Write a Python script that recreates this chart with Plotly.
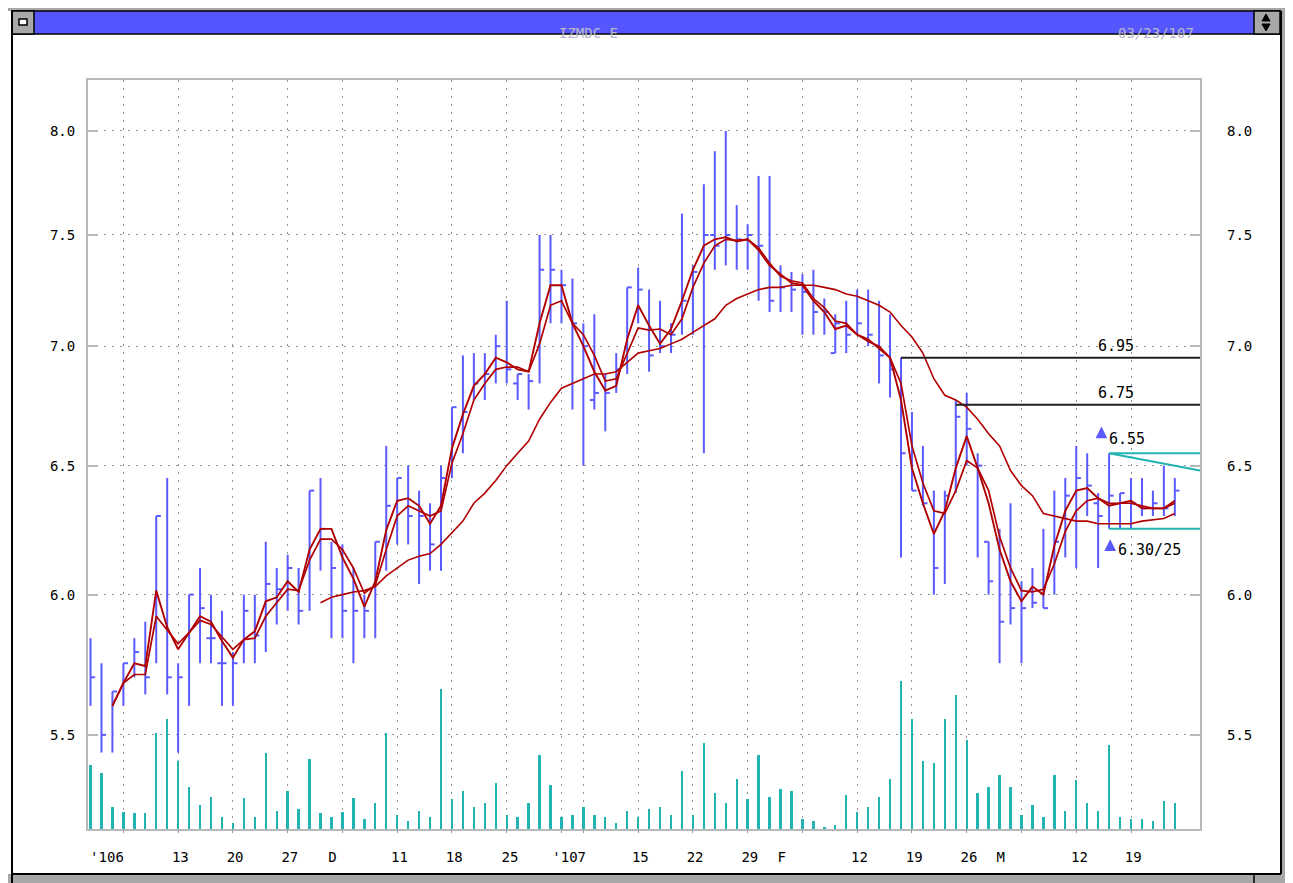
import plotly.graph_objects as go
import math

# ---------------- data ----------------
idx = list(range(100))

highs = [5.84, 5.75, 5.65, 5.75, 5.84, 5.90, 6.30, 6.45, 5.75, 6.00,
         6.10, 6.00, 5.94, 5.79, 6.00, 6.00, 6.20, 6.10, 6.15, 6.10,
         6.40, 6.45, 6.20, 6.19, 6.10, 6.00, 6.20, 6.58, 6.45, 6.50,
         6.40, 6.35, 6.50, 6.74, 6.96, 6.97, 6.97, 7.05, 7.20, 6.88,
         6.88, 7.50, 7.50, 7.34, 7.30, 7.10, 7.14, 6.88, 6.97, 7.26,
         7.35, 7.25, 7.20, 7.10, 7.60, 7.36, 7.74, 7.90, 8.00, 7.64,
         7.55, 7.78, 7.78, 7.36, 7.33, 7.32, 7.34, 7.21, 7.14, 7.20,
         7.25, 7.25, 7.20, 7.14, 6.95, 6.72, 6.58, 6.40, 6.40, 6.77,
         6.80, 6.55, 6.20, 6.25, 6.35, 6.05, 6.10, 6.25, 6.40, 6.45,
         6.58, 6.55, 6.39, 6.55, 6.39, 6.45, 6.45, 6.40, 6.50, 6.45]

lows = [5.60, 5.44, 5.44, 5.60, 5.70, 5.64, 5.75, 5.64, 5.44, 5.60,
        5.75, 5.75, 5.60, 5.60, 5.75, 5.75, 5.79, 5.89, 5.94, 5.89,
        5.94, 6.09, 5.84, 5.84, 5.75, 5.84, 5.84, 6.09, 6.19, 6.19,
        6.04, 6.09, 6.09, 6.45, 6.55, 6.77, 6.77, 6.84, 6.84, 6.77,
        6.73, 6.84, 7.10, 7.10, 6.73, 6.50, 6.73, 6.64, 6.80, 6.88,
        7.10, 6.89, 6.97, 6.97, 7.05, 7.05, 6.55, 7.34, 7.36, 7.34,
        7.34, 7.20, 7.15, 7.15, 7.15, 7.05, 7.05, 7.05, 6.97, 6.97,
        7.05, 7.00, 6.84, 6.78, 6.14, 6.40, 6.34, 6.00, 6.04, 6.39,
        6.50, 6.14, 6.00, 5.75, 5.89, 5.75, 5.95, 5.95, 6.00, 6.14,
        6.10, 6.30, 6.10, 6.25, 6.25, 6.25, 6.30, 6.30, 6.30, 6.30]

closes = [5.70, 5.50, 5.65, 5.75, 5.79, 5.70, 6.30, 5.70, 5.70, 6.00,
          5.95, 5.84, 5.75, 5.75, 5.94, 5.85, 6.04, 6.02, 6.10, 5.94,
          6.40, 6.25, 6.10, 5.94, 5.94, 5.94, 6.20, 6.34, 6.45, 6.30,
          6.30, 6.19, 6.45, 6.74, 6.72, 6.84, 6.88, 7.00, 6.90, 6.88,
          6.85, 7.34, 7.34, 7.27, 7.10, 7.00, 6.80, 6.80, 6.90, 7.26,
          7.25, 6.96, 7.00, 7.05, 7.20, 7.33, 7.50, 7.45, 7.50, 7.48,
          7.50, 7.45, 7.20, 7.26, 7.25, 7.24, 7.15, 7.15, 7.10, 7.05,
          7.10, 7.05, 6.96, 6.90, 6.55, 6.40, 6.35, 6.10, 6.38, 6.70,
          6.65, 6.50, 6.05, 5.90, 5.95, 5.95, 5.97, 5.95, 6.20, 6.38,
          6.45, 6.42, 6.30, 6.38, 6.39, 6.35, 6.33, 6.35, 6.33, 6.40]

# open ticks that are visible on the reference (others not drawn)
opens = {11: 5.84, 12: 5.75, 39: 6.84, 46: 6.77, 57: 7.50, 68: 6.97, 82: 6.20, 92: 6.35}

volume = [640, 560, 220, 170, 160, 160, 960, 1100, 680, 420,
          240, 320, 120, 60, 310, 120, 760, 180, 380, 200,
          700, 160, 120, 170, 310, 100, 260, 960, 140, 80,
          180, 120, 1400, 300, 380, 220, 260, 460, 140, 120,
          260, 740, 440, 120, 140, 220, 140, 120, 60, 180,
          120, 200, 220, 140, 580, 140, 860, 360, 260, 500,
          300, 740, 320, 400, 380, 100, 80, 20, 40, 340,
          170, 220, 320, 500, 1480, 1100, 680, 660, 1100, 1340,
          890, 360, 420, 540, 420, 140, 240, 120, 540, 180,
          490, 260, 180, 840, 120, 100, 100, 80, 280, 260]

ma_fast = [None, None, 5.60, 5.68, 5.75, 5.74, 6.015, 5.88, 5.80, 5.86,
           5.92, 5.90, 5.83, 5.77, 5.835, 5.865, 5.975, 5.99, 6.05, 6.01,
           6.17, 6.25, 6.25, 6.14, 6.06, 5.955, 6.05, 6.245, 6.36, 6.37,
           6.34, 6.27, 6.34, 6.57, 6.71, 6.83, 6.88, 6.95, 6.93, 6.90,
           6.89, 7.10, 7.27, 7.27, 7.10, 7.00, 6.89, 6.81, 6.83, 7.03,
           7.18, 7.09, 7.01, 7.075, 7.20, 7.34, 7.45, 7.48, 7.49, 7.47,
           7.48, 7.43, 7.36, 7.32, 7.28, 7.27, 7.20, 7.15, 7.075, 7.09,
           7.05, 7.03, 6.99, 6.95, 6.77, 6.49, 6.35, 6.23, 6.32, 6.49,
           6.62, 6.49, 6.35, 6.17, 6.05, 5.975, 6.03, 6.00, 6.185, 6.32,
           6.40, 6.41, 6.37, 6.34, 6.35, 6.36, 6.33, 6.33, 6.33, 6.36]

ma_slow = [None, None, 5.60, 5.68, 5.71, 5.71, 5.92, 5.87, 5.82, 5.86,
           5.905, 5.89, 5.845, 5.80, 5.835, 5.84, 5.92, 5.97, 6.02, 6.015,
           6.13, 6.21, 6.21, 6.17, 6.10, 6.005, 6.035, 6.17, 6.30, 6.34,
           6.32, 6.30, 6.32, 6.51, 6.63, 6.77, 6.84, 6.90, 6.91, 6.91,
           6.89, 7.01, 7.18, 7.20, 7.10, 7.05, 6.96, 6.85, 6.86, 6.97,
           7.08, 7.07, 7.075, 7.05, 7.12, 7.26, 7.37, 7.45, 7.48, 7.475,
           7.48, 7.44, 7.37, 7.31, 7.29, 7.28, 7.21, 7.17, 7.11, 7.10,
           7.05, 7.02, 7.00, 6.95, 6.84, 6.58, 6.43, 6.32, 6.31, 6.40,
           6.52, 6.49, 6.40, 6.22, 6.10, 6.015, 6.01, 6.02, 6.115, 6.24,
           6.32, 6.36, 6.37, 6.35, 6.35, 6.35, 6.34, 6.33, 6.33, 6.35]

ma_long = [None] * 21 + [
    5.97, 5.99, 6.00, 6.01, 6.015, 6.03, 6.07, 6.10, 6.13,
    6.145, 6.155, 6.19, 6.235, 6.28, 6.35, 6.39, 6.44, 6.50, 6.55,
    6.60, 6.69, 6.76, 6.82, 6.84, 6.86, 6.88, 6.88, 6.89, 6.93,
    6.97, 6.98, 6.99, 7.01, 7.03, 7.06, 7.09, 7.12, 7.18, 7.21,
    7.23, 7.25, 7.26, 7.26, 7.27, 7.27, 7.27, 7.26, 7.25, 7.23,
    7.22, 7.20, 7.18, 7.15, 7.09, 7.04, 6.97, 6.86, 6.79, 6.77,
    6.74, 6.69, 6.63, 6.58, 6.48, 6.42, 6.38, 6.31, 6.30, 6.29,
    6.28, 6.28, 6.27, 6.27, 6.27, 6.27, 6.28, 6.285, 6.29, 6.31]

# resistance levels (black) : price and starting bar
res_levels = [6.95, 6.75]
res_start = [74, 79]
res_labels = ["6.95", "6.75"]

# channel (teal): top, bottom, sloping line end price, starting bar
chan_start = 93
chan_top = 6.55
chan_bottom = 6.25
chan_slope_end = 6.48

# x axis labels
label_pos = [1.5, 8.2, 13.2, 18.2, 22.1, 28.2, 33.2, 38.3, 43.7, 50.2,
             55.2, 60.2, 63.1, 70.2, 75.2, 80.2, 83.1, 90.3, 95.2]
label_text = ["'106", "13", "20", "27", "D", "11", "18", "25", "'107", "15",
              "22", "29", "F", "12", "19", "26", "M", "12", "19"]
grid_idx = [3, 8, 13, 18, 23, 28, 33, 38, 43, 45, 50, 55, 60, 65, 70, 75, 80, 85, 90, 95]

price_ticks = [5.5, 6.0, 6.5, 7.0, 7.5, 8.0]
price_tick_text = ["5.5", "6.0", "6.5", "7.0", "7.5", "8.0"]

X_RANGE = [-0.23, 101.3]
Y_RANGE = [5.188, 8.257]

# ---------------- styles ----------------
BLUE = "#5a5aff"
TEAL = "#22b4b0"
RED = "#b00000"
GRID = "#959595"
FRAME = "#b8b8b8"
FONT = "DejaVu Sans Mono"
TICK = 0.42

fig = go.Figure()

# volume
fig.add_trace(go.Bar(x=idx, y=volume, yaxis="y2", width=0.22,
                     marker=dict(color=TEAL, line=dict(width=0)),
                     hoverinfo="skip", showlegend=False))

# high-low lines
hx, hy = [], []
for i, h, l in zip(idx, highs, lows):
    hx += [i, i, None]
    hy += [l, h, None]
fig.add_trace(go.Scatter(x=hx, y=hy, mode="lines", line=dict(color=BLUE, width=2),
                         showlegend=False, hoverinfo="skip"))

# close ticks (right)
cx, cy = [], []
for i, c in zip(idx, closes):
    cx += [i, i + TICK, None]
    cy += [c, c, None]
fig.add_trace(go.Scatter(x=cx, y=cy, mode="lines", line=dict(color=BLUE, width=2),
                         showlegend=False, hoverinfo="skip"))

# open ticks (left)
ox, oy = [], []
for i, o in opens.items():
    ox += [i - TICK, i, None]
    oy += [o, o, None]
fig.add_trace(go.Scatter(x=ox, y=oy, mode="lines", line=dict(color=BLUE, width=2),
                         showlegend=False, hoverinfo="skip"))

# moving averages
for ma, w in [(ma_long, 1.6), (ma_slow, 1.7), (ma_fast, 1.9)]:
    fig.add_trace(go.Scatter(x=idx, y=ma, mode="lines", line=dict(color=RED, width=w),
                             connectgaps=False, showlegend=False, hoverinfo="skip"))

# resistance lines
for lv, st in zip(res_levels, res_start):
    fig.add_trace(go.Scatter(x=[st, X_RANGE[1]], y=[lv, lv], mode="lines",
                             line=dict(color="#202020", width=2),
                             showlegend=False, hoverinfo="skip"))

# channel lines
for y0, y1 in [(chan_top, chan_top), (chan_top, chan_slope_end), (chan_bottom, chan_bottom)]:
    fig.add_trace(go.Scatter(x=[chan_start, X_RANGE[1]], y=[y0, y1], mode="lines",
                             line=dict(color=TEAL, width=2),
                             showlegend=False, hoverinfo="skip"))

# x grid helper trace on xaxis2 (invisible)
fig.add_trace(go.Scatter(x=[X_RANGE[0]], y=[6.0], xaxis="x2", mode="markers",
                         marker=dict(opacity=0), showlegend=False, hoverinfo="skip"))
# right labels helper trace
fig.add_trace(go.Scatter(x=[X_RANGE[0]], y=[6.0], yaxis="y3", mode="markers",
                         marker=dict(opacity=0), showlegend=False, hoverinfo="skip"))

L10 = math.log10
annotations = []
for lv, txt in zip(res_levels, res_labels):
    annotations.append(dict(x=93.6, y=L10(lv), xref="x", yref="y", text=txt,
                            showarrow=False, yanchor="bottom", yshift=1,
                            font=dict(family=FONT, size=15, color="#000000")))

# arrows + support / target labels
annotations.append(dict(x=92.3, y=L10(6.66), xref="x", yref="y", text="", showarrow=True,
                        ax=0, ay=12, arrowhead=2, arrowsize=0.9, arrowwidth=2.6, arrowcolor=BLUE))
annotations.append(dict(x=92.8, y=L10(6.61), xref="x", yref="y", text="6.55", showarrow=False,
                        xanchor="left", font=dict(family=FONT, size=15, color="#000000")))
annotations.append(dict(x=93.1, y=L10(6.21), xref="x", yref="y", text="", showarrow=True,
                        ax=0, ay=12, arrowhead=2, arrowsize=0.9, arrowwidth=2.6, arrowcolor=BLUE))
annotations.append(dict(x=93.6, y=L10(6.17), xref="x", yref="y", text="6.30/25", showarrow=False,
                        xanchor="left", font=dict(family=FONT, size=15, color="#000000")))

# ---------------- window chrome (page pixel -> paper) ----------------
OFF = 8                      # the page body offsets the figure by 8 px
W, H = 1293 - OFF, 883 - OFF
ML, MR, MT, MB = 88 - OFF, 93, 80 - OFF, 54
PW, PH = W - ML - MR, H - MT - MB


def px(x):
    return (x - OFF - ML) / PW


def py(y):
    return (H - MB - (y - OFF)) / PH


shapes = []


def rect(x0, y0, x1, y1, fill, line="#000000", lw=0):
    shapes.append(dict(type="rect", xref="paper", yref="paper", x0=px(x0), x1=px(x1),
                       y0=py(y1), y1=py(y0), fillcolor=fill,
                       line=dict(color=line, width=lw), layer="above"))


def seg(x0, y0, x1, y1, color="#000000", lw=1.5):
    shapes.append(dict(type="line", xref="paper", yref="paper", x0=px(x0), x1=px(x1),
                       y0=py(y0), y1=py(y1), line=dict(color=color, width=lw), layer="above"))


CH = "#a8a8a8"
rect(8, 8, 1293, 11, CH)
rect(1281, 8, 1293, 883, CH)
rect(8, 874, 1293, 883, CH)
rect(12, 11, 1280, 34, "#5656ff", "#000000", 1.5)
rect(12, 11, 34, 34, CH, "#000000", 1.5)
rect(19, 19, 27, 25, "#ffffff", "#000000", 1.5)
rect(1254, 11, 1280, 34, CH, "#000000", 1.5)
shapes.append(dict(type="path", xref="paper", yref="paper", layer="above",
                   path="M {} {} L {} {} L {} {} Z".format(px(1262), py(21), px(1270), py(21), px(1266), py(14)),
                   fillcolor="#000000", line=dict(color="#000000", width=1)))
shapes.append(dict(type="path", xref="paper", yref="paper", layer="above",
                   path="M {} {} L {} {} L {} {} Z".format(px(1262), py(24), px(1270), py(24), px(1266), py(31)),
                   fillcolor="#000000", line=dict(color="#000000", width=1)))
seg(12, 11, 12, 883, lw=2)
seg(1281, 11, 1281, 874, lw=2)
seg(12, 874, 1281, 874, lw=2)
seg(1254, 874, 1254, 883, lw=1.5)

annotations.append(dict(x=px(588), y=py(23), xref="paper", yref="paper", text="IZMDC E",
                        showarrow=False, font=dict(family=FONT, size=14, color="#b8b8c8")))
annotations.append(dict(x=px(1196), y=py(23), xref="paper", yref="paper", text="03/23/107",
                        showarrow=False, xanchor="right",
                        font=dict(family=FONT, size=14, color="#b8b8c8")))

axis_font = dict(family=FONT, size=14, color="#000000")

fig.update_layout(
    width=W, height=H,
    margin=dict(l=ML, r=MR, t=MT, b=MB, pad=0),
    paper_bgcolor="#ffffff", plot_bgcolor="#ffffff",
    showlegend=False, bargap=0,
    xaxis=dict(range=X_RANGE, tickmode="array", tickvals=label_pos, ticktext=label_text,
               showgrid=False, zeroline=False, ticks="", tickfont=axis_font,
               ticklabelstandoff=14, showline=True, mirror=True, linecolor=FRAME, linewidth=2),
    xaxis2=dict(range=X_RANGE, overlaying="x", side="bottom", tickmode="array", tickvals=grid_idx,
                showticklabels=False, showgrid=True, gridcolor=GRID, gridwidth=1.3,
                griddash="1.5px,6.5px", zeroline=False, ticks="outside", ticklen=3,
                tickcolor=GRID, showline=False),
    yaxis=dict(type="log", range=[L10(Y_RANGE[0]), L10(Y_RANGE[1])], tickmode="array",
               tickvals=price_ticks, ticktext=price_tick_text, tickfont=axis_font,
               showgrid=True, gridcolor=GRID, gridwidth=1.3, griddash="1.5px,6.5px",
               zeroline=False, ticks="inside", ticklen=10, tickcolor=FRAME, tickwidth=2,
               showline=True, mirror="ticks", linecolor=FRAME, linewidth=2,
               ticklabelstandoff=8),
    yaxis2=dict(range=[0, PH * 10], overlaying="y", visible=False, fixedrange=True),
    yaxis3=dict(type="log", range=[L10(Y_RANGE[0]), L10(Y_RANGE[1])], overlaying="y",
                side="right", tickmode="array", tickvals=price_ticks, ticktext=price_tick_text,
                tickfont=axis_font, showgrid=False, zeroline=False, ticks="",
                showline=False, ticklabelstandoff=26),
    shapes=shapes,
    annotations=annotations,
)

fig.write_html("out.html")
